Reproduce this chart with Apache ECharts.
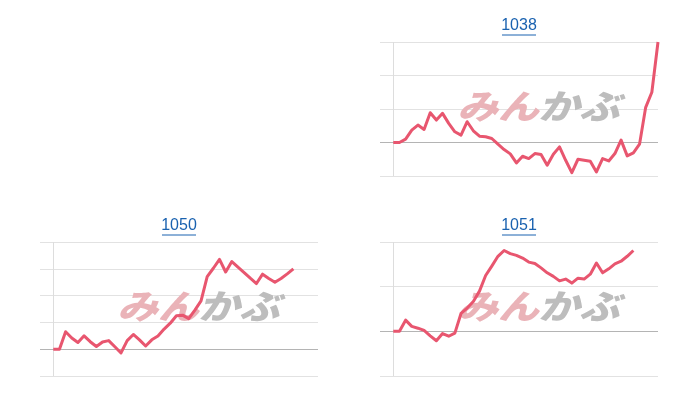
<!DOCTYPE html>
<html><head><meta charset="utf-8">
<style>html,body{margin:0;padding:0;background:#fff}#c{width:700px;height:400px}</style>
<script src="https://cdn.jsdelivr.net/npm/echarts@6/dist/echarts.min.js"></script>
</head><body><div id="c"></div>
<script>
// Chart titles (stock codes)
const titles = ['1038', '1050', '1051'];
// Intraday change series (units of one gridline step; 0 = previous close)
const s1038 = [0, 0, 0.1, 0.37, 0.52, 0.39, 0.89, 0.67, 0.87, 0.57, 0.32, 0.22, 0.62, 0.35, 0.19, 0.17, 0.12, -0.05, -0.21, -0.34, -0.61, -0.41, -0.48, -0.33, -0.36, -0.68, -0.35, -0.13, -0.53, -0.9, -0.5, -0.53, -0.56, -0.88, -0.48, -0.55, -0.33, 0.07, -0.4, -0.31, -0.05, 1.05, 1.5, 3.0];
const s1050 = [0, 0, 0.65, 0.42, 0.25, 0.5, 0.28, 0.1, 0.27, 0.32, 0.09, -0.14, 0.32, 0.55, 0.35, 0.12, 0.35, 0.49, 0.75, 0.97, 1.25, 1.27, 1.14, 1.46, 1.8, 2.71, 3.02, 3.35, 2.88, 3.27, 3.06, 2.86, 2.65, 2.45, 2.8, 2.64, 2.5, 2.64, 2.81, 3.0];
const s1051 = [0, 0, 0.25, 0.11, 0.07, 0.02, -0.1, -0.21, -0.05, -0.11, -0.04, 0.4, 0.52, 0.67, 0.9, 1.25, 1.46, 1.68, 1.81, 1.74, 1.7, 1.64, 1.55, 1.52, 1.42, 1.31, 1.23, 1.13, 1.17, 1.08, 1.19, 1.17, 1.28, 1.53, 1.31, 1.4, 1.51, 1.57, 1.68, 1.81];
// Y ranges (gridline steps)
const yMin = [-1, -1, -1];
const yMax = [3, 4, 2];
const slots = 43; // time slots across the trading day
const series = [s1038, s1050, s1051];

// layout
const layout = [
  { left: 380, top: 42 },
  { left: 40, top: 242 },
  { left: 380, top: 242 }
];
const GW = 278, GH = 134, PAD = 13.3;
const xMinVal = -PAD / ((GW - PAD) / slots);
const LINE = '#e8566f';
const TITLE = '#1a62b0';

const chart = echarts.init(document.getElementById('c'));
const grids = [], xAxes = [], yAxes = [], ser = [], graphics = [];
layout.forEach((L, i) => {
  grids.push({ left: L.left, top: L.top, width: GW, height: GH });
  xAxes.push({ gridIndex: i, type: 'value', min: xMinVal, max: slots, show: false });
  yAxes.push({ gridIndex: i, type: 'value', min: yMin[i], max: yMax[i], interval: 1,
    axisLine: { show: false }, axisTick: { show: false }, axisLabel: { show: false },
    splitLine: { show: true, lineStyle: { color: '#e2e2e2', width: 1 } } });
  ser.push({ type: 'line', xAxisIndex: i, yAxisIndex: i,
    data: series[i].map((v, k) => [k, v]),
    showSymbol: false, symbol: 'none', z: 5,
    lineStyle: { color: LINE, width: 3, join: 'round' }, itemStyle: { color: LINE },
    markLine: { silent: true, symbol: ['none', 'none'], label: { show: false }, animation: false,
      data: [
        { xAxis: 0, lineStyle: { color: '#dddddd', width: 1, type: 'solid' } },
        { yAxis: 0, lineStyle: { color: '#b4b4b4', width: 1, type: 'solid' } }
      ] } });
  const cx = L.left + GW / 2;
  const ax = L.left + PAD;
  graphics.push({ type: 'text', x: cx, y: L.top - 16, z: 10,
    style: { text: titles[i], fill: TITLE, font: '16px "Liberation Sans", Arial, sans-serif', align: 'center', verticalAlign: 'middle' } });
  graphics.push({ type: 'line', z: 10, shape: { x1: cx - 17, y1: L.top - 7, x2: cx + 17, y2: L.top - 7 },
    style: { stroke: TITLE, lineWidth: 1 } });
  graphics.push({ type: 'text', x: ax + 64, y: L.top + 64, z: 1, scaleX: 1.2,
    style: { text: 'みん', fill: '#eab3b8', font: 'italic 900 34px "Noto Sans CJK JP"', align: 'left', verticalAlign: 'middle' } });
  graphics.push({ type: 'text', x: ax + 145, y: L.top + 64, z: 1, scaleX: 1.2,
    style: { text: 'かぶ', fill: '#bdbdbd', font: 'italic 900 34px "Noto Sans CJK JP"', align: 'left', verticalAlign: 'middle' } });
});

chart.setOption({
  animation: false,
  backgroundColor: '#ffffff',
  grid: grids, xAxis: xAxes, yAxis: yAxes, series: ser,
  graphic: { elements: graphics }
});
</script></body></html>
